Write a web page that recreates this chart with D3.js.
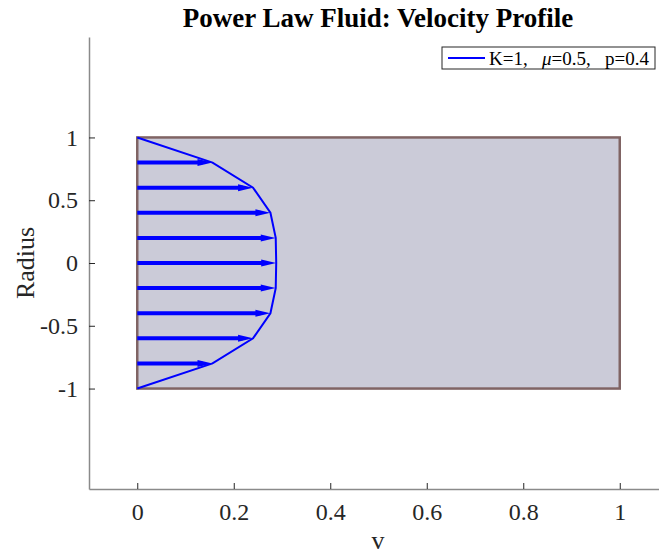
<!DOCTYPE html>
<html>
<head>
<meta charset="utf-8">
<script src="https://cdn.jsdelivr.net/npm/d3@7"></script>
<style>
  body { margin: 0; background: #fff; }
  svg { display: block; font-family: "Liberation Serif", "Times New Roman", serif; }
</style>
</head>
<body>
<div id="chart"></div>
<script>
// radius positions and velocity
var radius = [1, 0.8, 0.6, 0.4, 0.2, 0, -0.2, -0.4, -0.6, -0.8, -1];
var velocity = [0, 0.156, 0.240, 0.276, 0.287, 0.288, 0.287, 0.276, 0.240, 0.156, 0];
var xTicks = [0, 0.2, 0.4, 0.6, 0.8, 1];
var yTicks = [-1, -0.5, 0, 0.5, 1];
var pipeX = [0, 1];
var pipeY = [-1, 1];

var svgWidth = 659;
var svgHeight = 554;

var svg = d3.select("#chart")
    .append("svg")
    .attr("width", svgWidth)
    .attr("height", svgHeight);

var x = d3.scaleLinear().domain([-0.1, 1.1]).range([89, 668]);
var y = d3.scaleLinear().domain([-1.8, 1.8]).range([489, 37]);

// matlab prints a plain hyphen for negatives
var fmt = function(d) { return String(d); };

// pipe cross-section
svg.append("rect")
    .attr("x", x(pipeX[0]))
    .attr("y", y(pipeY[1]))
    .attr("width", x(pipeX[1]) - x(pipeX[0]))
    .attr("height", y(pipeY[0]) - y(pipeY[1]))
    .attr("fill", "#cbcbd8")
    .attr("stroke", "#806464")
    .attr("stroke-width", 2.5);

// axes (inward ticks, no box)
var xAxis = svg.append("g")
    .attr("transform", "translate(0," + y(-1.8) + ")")
    .call(d3.axisBottom(x).tickValues(xTicks).tickSizeInner(-6).tickSizeOuter(0)
        .tickPadding(12).tickFormat(fmt));
var yAxis = svg.append("g")
    .attr("transform", "translate(" + x(-0.1) + ",0)")
    .call(d3.axisLeft(y).tickValues(yTicks).tickSizeInner(-6).tickSizeOuter(0)
        .tickPadding(11).tickFormat(fmt));

[xAxis, yAxis].forEach(function(g) {
    g.select(".domain").attr("stroke", "#8a8a8a").attr("stroke-width", 1.5);
    g.selectAll(".tick line").attr("stroke", "#262626").attr("stroke-width", 1);
    g.selectAll(".tick text")
        .attr("fill", "#262626")
        .style("font-family", "Liberation Serif, serif")
        .style("font-size", "24px");
});
xAxis.selectAll(".tick text").attr("dy", "0.8em");

// velocity arrows (quiver)
var arrows = svg.append("g");
radius.forEach(function(r, i) {
    var v = velocity[i];
    if (v <= 0) return;
    var x0 = x(0), x1 = x(v), yy = y(r);
    arrows.append("line")
        .attr("x1", x0).attr("y1", yy)
        .attr("x2", x1 - 10).attr("y2", yy)
        .attr("stroke", "#0000ff")
        .attr("stroke-width", 4);
    arrows.append("path")
        .attr("d", "M" + (x1 - 15) + "," + (yy - 3.5) + "L" + x1 + "," + yy + "L" + (x1 - 15) + "," + (yy + 3.5) + "Z")
        .attr("fill", "#0000ff");
});

// velocity profile line
var line = d3.line()
    .x(function(d, i) { return x(velocity[i]); })
    .y(function(d) { return y(d); });
svg.append("path")
    .datum(radius)
    .attr("d", line)
    .attr("fill", "none")
    .attr("stroke", "#0000ff")
    .attr("stroke-width", 2);

// title and labels
svg.append("text")
    .attr("x", 378).attr("y", 27)
    .attr("text-anchor", "middle")
    .style("font-size", "27px")
    .style("font-weight", "bold")
    .attr("fill", "#000")
    .text("Power Law Fluid: Velocity Profile");

svg.append("text")
    .attr("x", 378).attr("y", 549)
    .attr("text-anchor", "middle")
    .style("font-size", "26px")
    .attr("fill", "#262626")
    .text("v");

svg.append("text")
    .attr("transform", "translate(34,263) rotate(-90)")
    .attr("text-anchor", "middle")
    .style("font-size", "26px")
    .attr("fill", "#262626")
    .text("Radius");

// legend
var legend = svg.append("g");
legend.append("rect")
    .attr("x", 442).attr("y", 47)
    .attr("width", 213).attr("height", 22)
    .attr("fill", "#fff")
    .attr("stroke", "#262626")
    .attr("stroke-width", 1);
legend.append("line")
    .attr("x1", 448).attr("x2", 485)
    .attr("y1", 58).attr("y2", 58)
    .attr("stroke", "#0000ff")
    .attr("stroke-width", 2);
var lt = legend.append("text")
    .attr("x", 489).attr("y", 64.5)
    .style("font-size", "19px")
    .attr("fill", "#000")
    .attr("xml:space", "preserve");
lt.append("tspan").text("K=1,   ");
lt.append("tspan").style("font-style", "italic").text("μ");
lt.append("tspan").text("=0.5,   p=0.4");
</script>
</body>
</html>
